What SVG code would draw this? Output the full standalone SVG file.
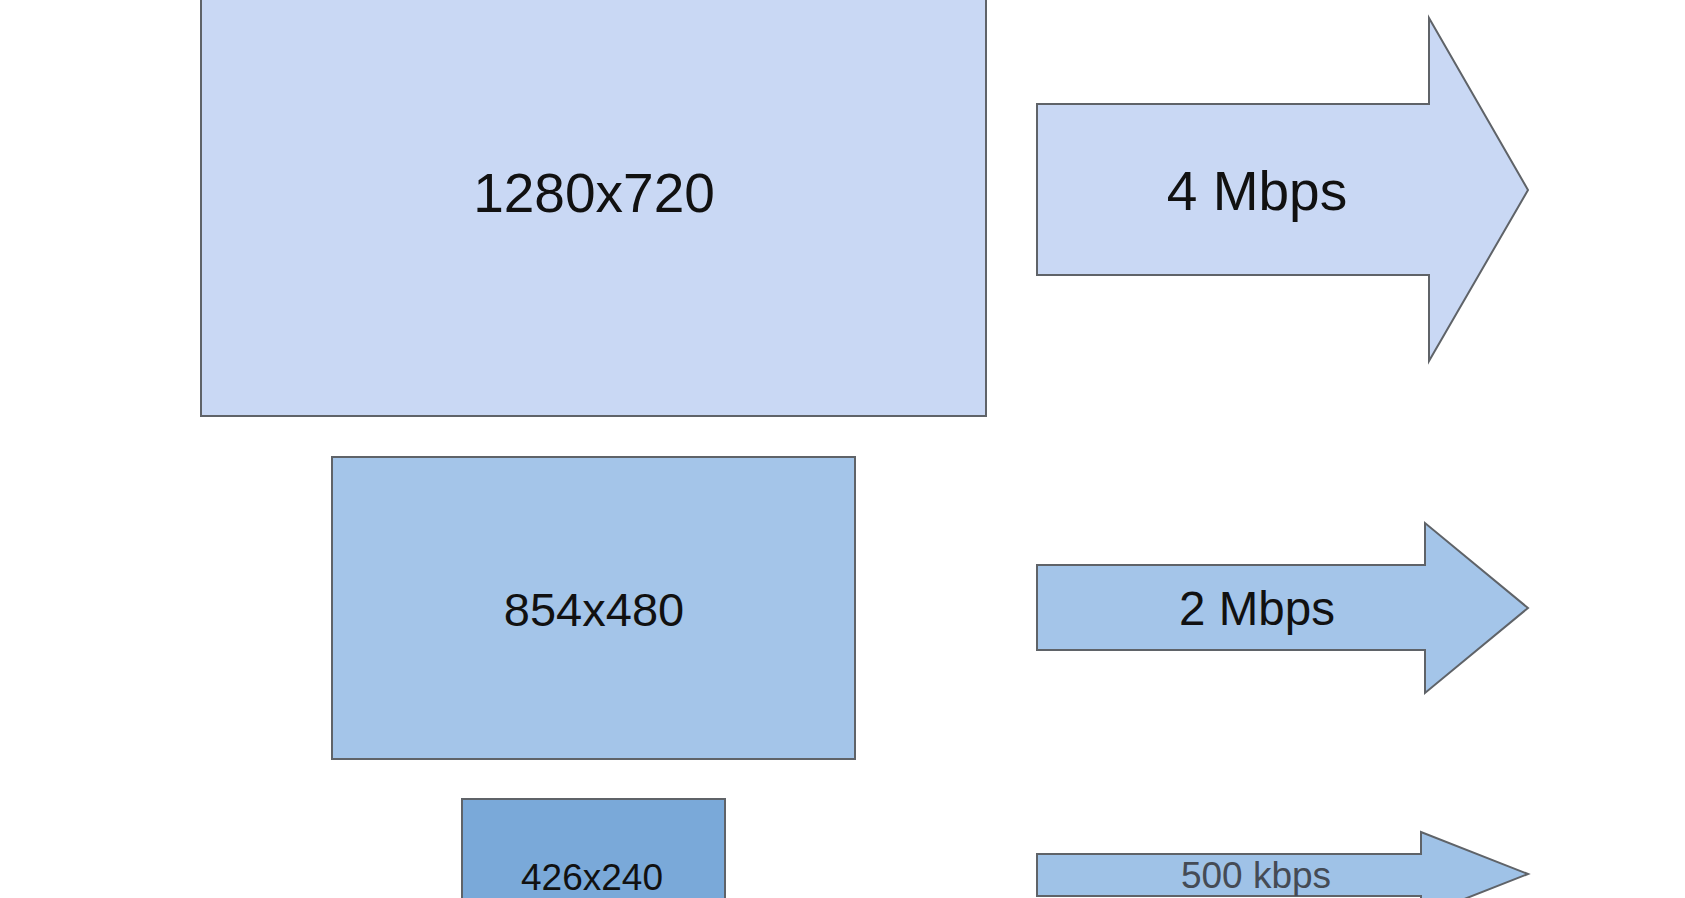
<svg xmlns="http://www.w3.org/2000/svg" width="1685" height="898" viewBox="0 0 1685 898">
<style>
.box{stroke:#5f6368;stroke-width:2}
.lbl{font-family:"Liberation Sans",Arial,sans-serif;fill:#111;text-anchor:middle}
</style>
<rect width="1685" height="898" fill="#ffffff"/>
<g id="res-1280">
<rect class="box" x="201" y="-40" width="785" height="456" fill="#c9d8f4"/>
<text class="lbl" x="594" y="212" font-size="55">1280x720</text>
</g>
<g id="res-854">
<rect class="box" x="332" y="457" width="523" height="302" fill="#a4c5e9"/>
<text class="lbl" x="594" y="626" font-size="47">854x480</text>
</g>
<g id="res-426">
<rect class="box" x="462" y="799" width="263" height="120" fill="#7aa9d9"/>
<text class="lbl" x="592" y="890" font-size="37">426x240</text>
</g>
<g id="connectors">
<g id="rate-4">
<polygon class="box" points="1037,104 1429,104 1429,18 1528,190 1429,361 1429,275 1037,275" fill="#c9d8f4"/>
<text class="lbl" x="1257" y="210" font-size="55">4 Mbps</text>
</g>
<g id="rate-2">
<polygon class="box" points="1037,565 1425,565 1425,523 1528,608 1425,693 1425,650 1037,650" fill="#a4c5e9"/>
<text class="lbl" x="1257" y="625" font-size="47.5">2 Mbps</text>
</g>
<g id="rate-500">
<polygon class="box" points="1037,854 1421,854 1421,832 1528,874 1421,916 1421,896 1037,896" fill="#9fc2e7" stroke="#888"/>
<text class="lbl" x="1256" y="888" font-size="37" style="fill:#454b55">500 kbps</text>
</g>
</g>
</svg>
